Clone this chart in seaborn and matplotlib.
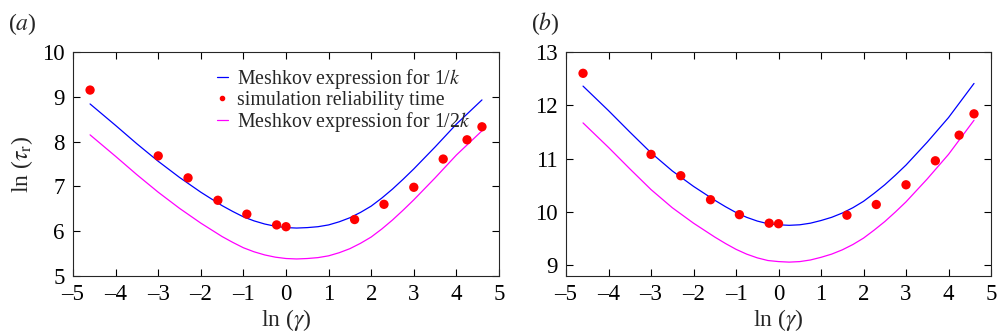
import pandas as pd
import matplotlib
matplotlib.use("Agg")
import matplotlib.pyplot as plt
import seaborn as sns
from matplotlib.lines import Line2D

# data
ln_gamma = [-4.6, -3.0, -2.3, -1.6, -0.92, -0.22, 0.0, 1.61, 2.3, 3.0, 3.69, 4.25, 4.6]
sim_a = [9.15, 7.68, 7.19, 6.69, 6.38, 6.14, 6.10, 6.26, 6.60, 6.98, 7.61, 8.04, 8.33]
sim_b = [12.60, 11.08, 10.68, 10.23, 9.95, 9.79, 9.78, 9.94, 10.14, 10.51, 10.96, 11.44, 11.84]

curve_x = [-4.6, -4.0, -3.5, -3.0, -2.5, -2.0, -1.5, -1.25, -1.0, -0.75, -0.5, -0.25, 0.0,
           0.25, 0.5, 0.75, 1.0, 1.25, 1.5, 1.75, 2.0, 2.25, 2.5, 2.75, 3.0, 3.5, 4.0, 4.6]
mesh_k_a = [8.84, 8.36, 7.95, 7.56, 7.20, 6.87, 6.57, 6.44, 6.32, 6.23, 6.16, 6.11, 6.08,
            6.07, 6.08, 6.10, 6.14, 6.21, 6.30, 6.42, 6.56, 6.74, 6.94, 7.16, 7.39, 7.88, 8.39, 8.93]
mesh_2k_a = [8.15, 7.67, 7.26, 6.87, 6.51, 6.18, 5.88, 5.75, 5.63, 5.54, 5.47, 5.42, 5.39,
             5.38, 5.39, 5.41, 5.45, 5.52, 5.61, 5.73, 5.87, 6.05, 6.25, 6.47, 6.70, 7.19, 7.70, 8.24]
mesh_k_b = [12.36, 11.90, 11.50, 11.11, 10.77, 10.48, 10.22, 10.10, 9.99, 9.90, 9.83, 9.78, 9.76,
            9.75, 9.76, 9.79, 9.84, 9.90, 9.98, 10.08, 10.20, 10.35, 10.51, 10.69, 10.88, 11.31, 11.77, 12.41]
mesh_2k_b = [11.67, 11.21, 10.81, 10.42, 10.08, 9.79, 9.53, 9.41, 9.30, 9.21, 9.14, 9.09, 9.07,
             9.06, 9.07, 9.10, 9.15, 9.21, 9.29, 9.39, 9.51, 9.66, 9.82, 10.00, 10.19, 10.62, 11.08, 11.72]

sns.set_style("ticks")
plt.rcParams["font.family"] = ["Liberation Serif", "DejaVu Serif"]
plt.rcParams["mathtext.fontset"] = "stix"

fig = plt.figure(figsize=(9.99, 3.36), dpi=100)
ax_a = fig.add_axes([0.0731, 0.1786, 0.4264, 0.6667])
ax_b = fig.add_axes([0.5666, 0.1786, 0.4254, 0.6667])

panels = [
    (ax_a, sim_a, mesh_k_a, mesh_2k_a, (5, 10), [5, 6, 7, 8, 9, 10], "($\\mathit{a}$)", -0.153),
    (ax_b, sim_b, mesh_k_b, mesh_2k_b, (8.8, 13), [9, 10, 11, 12, 13], "($\\mathit{b}$)", -0.082),
]

for ax, sim, mk, m2k, ylim, yticks, tag, tag_x in panels:
    curves = pd.DataFrame({"x": curve_x, "k": mk, "k2": m2k})
    pts = pd.DataFrame({"x": ln_gamma, "y": sim})
    sns.lineplot(data=curves, x="x", y="k", color="#0000ff", lw=0.9, ax=ax)
    sns.lineplot(data=curves, x="x", y="k2", color="#ff00ff", lw=0.9, ax=ax)
    sns.scatterplot(data=pts, x="x", y="y", color="#ff0000", s=45, edgecolor="none", ax=ax, zorder=3)
    ax.set_xlim(-5, 5)
    ax.set_ylim(*ylim)
    ax.set_xticks(range(-5, 6))
    ax.set_xticklabels([f"\u2013{abs(v)}" if v < 0 else str(v) for v in range(-5, 6)])
    ax.set_yticks(yticks)
    ax.tick_params(direction="in", top=True, right=True, length=5, width=0.8,
                   labelsize=16.5, pad=6, colors="black")
    for s in ax.spines.values():
        s.set_linewidth(0.8)
    ax.set_xlabel("ln ($\\gamma$)", fontsize=17, labelpad=1)
    ax.set_ylabel("")
    ax.text(tag_x, 1.10, tag, transform=ax.transAxes, fontsize=17)

ax_a.set_ylabel("ln ($\\tau_{\\mathrm{r}}$)", fontsize=17, labelpad=5)

handles = [
    Line2D([], [], color="#0000ff", lw=0.9),
    Line2D([], [], color="#ff0000", marker="o", ls="none", markersize=3),
    Line2D([], [], color="#ff00ff", lw=0.9),
]
labels = ["Meshkov expression for 1/$\\mathit{k}$", "simulation reliability time",
          "Meshkov expression for 1/2$\\mathit{k}$"]
ax_a.legend(handles, labels, loc="upper left", bbox_to_anchor=(0.305, 0.995), frameon=False,
            fontsize=14.3, handlelength=0.55, handletextpad=0.45, labelspacing=0.0, borderpad=0.2)

fig.savefig("out.png", dpi=100)
